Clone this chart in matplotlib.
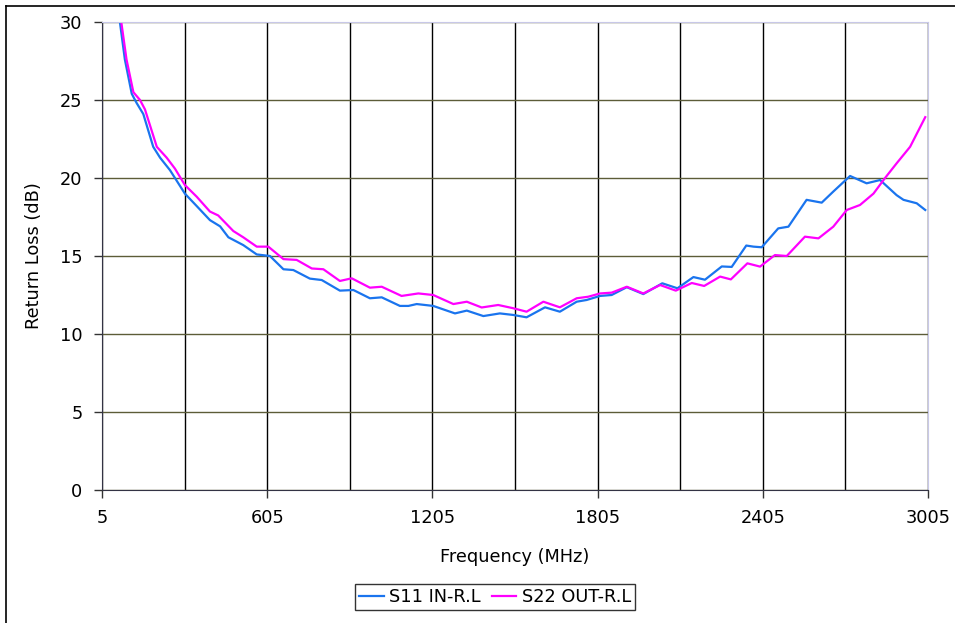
import matplotlib
matplotlib.use("Agg")
import matplotlib.pyplot as plt
from matplotlib.ticker import MultipleLocator, FixedLocator

# S11 input return loss
s11_freq = [60, 70, 88, 113, 131, 155, 191, 216, 252, 306, 349, 397, 434, 464,
            518, 567, 615, 664, 700, 760, 803, 869, 918, 978, 1021, 1087, 1118,
            1148, 1208, 1287, 1330, 1390, 1450, 1499, 1547, 1614, 1668, 1729,
            1765, 1814, 1856, 1911, 1971, 2040, 2095, 2153, 2195, 2256, 2292,
            2345, 2371, 2401, 2461, 2498, 2564, 2619, 2661, 2722, 2782, 2831,
            2891, 2916, 2964, 2995]
s11_rl = [31.5, 30.0, 27.6, 25.4, 24.8, 24.1, 22.0, 21.3, 20.5, 19.0, 18.2, 17.3,
          16.9, 16.2, 15.7, 15.1, 15.0, 14.15, 14.1, 13.55, 13.46, 12.78, 12.82,
          12.29, 12.35, 11.8, 11.8, 11.92, 11.8, 11.32, 11.5, 11.15, 11.32, 11.22,
          11.07, 11.71, 11.43, 12.07, 12.18, 12.44, 12.5, 13.0, 12.56, 13.25,
          12.93, 13.65, 13.48, 14.33, 14.3, 15.67, 15.6, 15.56, 16.77, 16.88,
          18.6, 18.42, 19.13, 20.13, 19.66, 19.87, 18.9, 18.6, 18.38, 17.95]

# S22 output return loss
s22_freq = [65, 75, 94, 119, 143, 161, 204, 240, 270, 306, 349, 397, 427, 482,
            518, 567, 609, 664, 712, 767, 809, 869, 912, 978, 1021, 1093, 1154,
            1208, 1281, 1330, 1384, 1444, 1499, 1547, 1608, 1668, 1729, 1771,
            1814, 1856, 1911, 1971, 2032, 2089, 2147, 2192, 2250, 2289, 2349,
            2395, 2449, 2492, 2558, 2607, 2661, 2710, 2758, 2807, 2849, 2891,
            2940, 2995]
s22_rl = [31.5, 30.0, 27.6, 25.5, 25.0, 24.4, 22.0, 21.3, 20.6, 19.55, 18.8,
          17.85, 17.6, 16.6, 16.2, 15.6, 15.6, 14.8, 14.75, 14.2, 14.15, 13.4,
          13.57, 12.97, 13.03, 12.44, 12.6, 12.5, 11.92, 12.07, 11.7, 11.86,
          11.65, 11.43, 12.07, 11.71, 12.29, 12.39, 12.6, 12.65, 13.03, 12.6,
          13.14, 12.78, 13.27, 13.08, 13.68, 13.5, 14.53, 14.32, 15.06, 15.0,
          16.24, 16.13, 16.88, 17.95, 18.27, 19.0, 20.0, 20.94, 22.0, 23.9]

x_ticks = [5, 605, 1205, 1805, 2405, 3005]

plt.rcParams['font.family'] = ['DejaVu Sans']
fs = 12.8

fig = plt.figure(figsize=(9.55, 6.23), dpi=100)
ax = fig.add_axes([102 / 955, 1 - 490 / 623, 826 / 955, 468 / 623])

ax.plot(s11_freq, s11_rl, color='#1a74ee', lw=1.6, label='S11 IN-R.L')
ax.plot(s22_freq, s22_rl, color='#ff00ff', lw=1.6, label='S22 OUT-R.L')

ax.set_xlim(5, 3005)
ax.set_ylim(0, 30)
ax.xaxis.set_major_locator(FixedLocator(x_ticks))
ax.xaxis.set_minor_locator(MultipleLocator(300, offset=5))
ax.yaxis.set_major_locator(MultipleLocator(5))

# grid: black verticals every 300 MHz, olive horizontals every 5 dB
ax.grid(True, which='both', axis='x', color='black', lw=1.0)
ax.grid(True, which='major', axis='y', color='#5c5c38', lw=1.0)
ax.set_axisbelow(True)
ax.tick_params(axis='x', which='minor', length=0)
ax.tick_params(axis='both', which='major', direction='out', length=6,
               width=1, color='#333333', labelsize=fs, pad=8)

for side in ['top', 'right']:
    ax.spines[side].set_color('#c8c8e8')
for side in ['left', 'bottom']:
    ax.spines[side].set_color('#333344')

ax.set_xlabel('Frequency (MHz)', fontsize=fs, labelpad=15)
ax.set_ylabel('Return Loss (dB)', fontsize=fs, labelpad=12)

leg = fig.legend(loc='center', bbox_to_anchor=(495 / 955, 1 - 597 / 623),
                 ncol=2, fontsize=fs, frameon=True, fancybox=False,
                 handlelength=1.4, handletextpad=0.3, columnspacing=0.6,
                 borderpad=0.25, borderaxespad=0)
leg.get_frame().set_edgecolor('black')
leg.get_frame().set_linewidth(1.0)

# outer chart border (left and top edges visible)
fig.add_artist(plt.Line2D([6 / 955, 6 / 955], [0, 1 - 6 / 623], color='black', lw=1.2))
fig.add_artist(plt.Line2D([6 / 955, 1], [1 - 6 / 623, 1 - 6 / 623], color='black', lw=1.2))

fig.savefig('out.png', dpi=100)
